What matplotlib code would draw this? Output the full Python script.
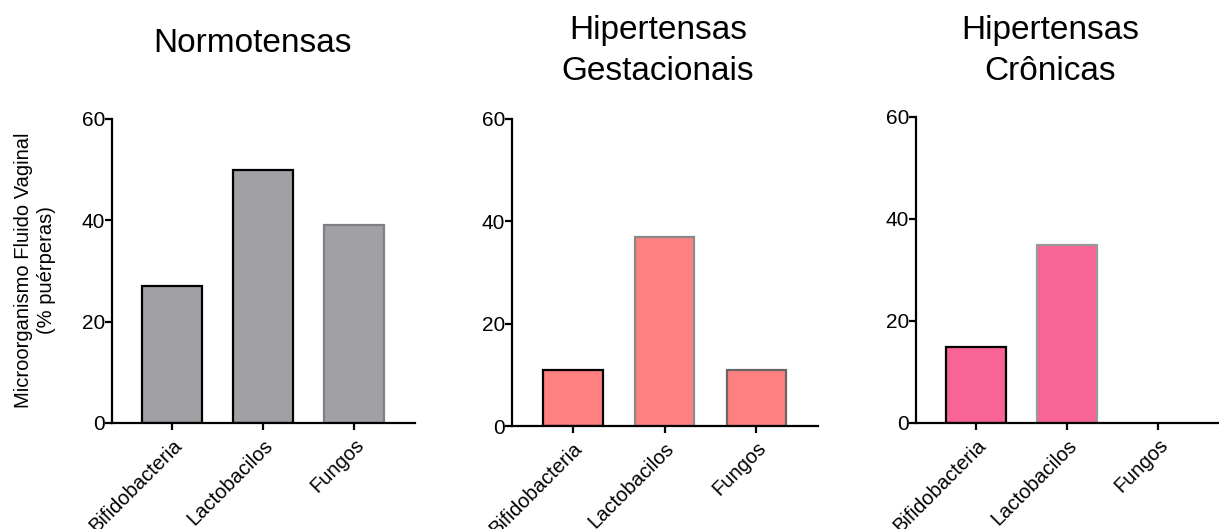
import matplotlib.pyplot as plt

plt.rcParams['font.family'] = ['Liberation Sans', 'DejaVu Sans']

categories = ["Bifidobacteria", "Lactobacilos", "Fungos"]
titles = ["Normotensas", "Hipertensas\nGestacionais", "Hipertensas\nCrônicas"]
normotensas = [27, 50, 39]
gestacionais = [11, 37, 11]
cronicas = [15, 35, 0]
series = [normotensas, gestacionais, cronicas]

fill_colors = ["#a0a0a5", "#ff8080", "#f86496"]
edge_colors = [
    ["#000000", "#000000", "#808080"],
    ["#000000", "#8a8a8a", "#666666"],
    ["#000000", "#999999", "#000000"],
]

fig = plt.figure(figsize=(12.19, 5.29), dpi=100)
W, H = 1219, 529
# axes boxes in pixels: left, right, top, bottom
boxes = [(112, 415, 119, 423), (512, 818, 119, 426), (916, 1219, 117, 423)]
title_x = [253, 658, 1050]

for i, (l, r, t, b) in enumerate(boxes):
    ax = fig.add_axes([l / W, 1 - b / H, (r - l) / W, (b - t) / H])
    vals = series[i]
    for j, v in enumerate(vals):
        if v > 0:
            ax.bar(j, v, width=0.65, color=fill_colors[i],
                   edgecolor=edge_colors[i][j], linewidth=1.6, zorder=2)
    ax.set_xlim(-0.66, 2.67)
    ax.set_ylim(0, 60)
    ax.set_yticks([0, 20, 40, 60])
    ax.set_xticks(range(len(categories)))
    ax.set_xticklabels(categories, rotation=45, ha='right', rotation_mode='anchor')
    for side in ['top', 'right']:
        ax.spines[side].set_visible(False)
    for side in ['left', 'bottom']:
        ax.spines[side].set_linewidth(1.6)
        ax.spines[side].set_zorder(3)
    ax.tick_params(axis='y', direction='out', length=5, width=1.6,
                   labelsize=15, pad=0)
    ax.tick_params(axis='x', direction='out', length=5, width=1.6,
                   labelsize=14.5, pad=4)

    # titles: one line has its baseline at 52 px, two lines at 39 and 80 px
    lines = titles[i].split("\n")
    base = 52 if len(lines) == 1 else 39
    for k, line in enumerate(lines):
        fig.text(title_x[i] / W, 1 - (base + 41 * k) / H, line, fontsize=24,
                 ha='center', va='baseline')

fig.text(35 / W, 1 - 270 / H, "Microorganismo Fluido Vaginal\n(% puérperas)",
         rotation=90, fontsize=14.5, ha='center', va='center',
         multialignment='center', linespacing=1.25)

fig.savefig("out.png", dpi=100)
